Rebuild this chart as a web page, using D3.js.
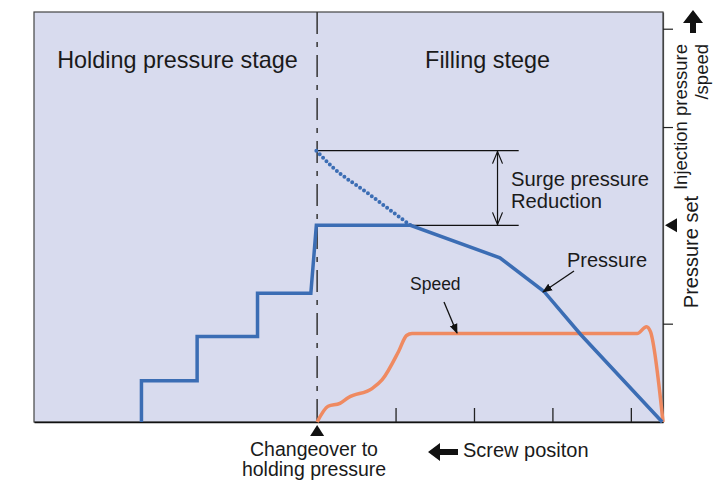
<!DOCTYPE html>
<html>
<head>
<meta charset="utf-8">
<script src="https://cdn.jsdelivr.net/npm/d3@7"></script>
<style>
  body { margin: 0; background: #fff; }
  text { font-family: "Liberation Sans", Arial, sans-serif; fill: #1a1a1a; }
</style>
</head>
<body>
<svg id="chart" width="722" height="481"></svg>
<script>
// screw position: 0 = changeover, one unit per tick
let xTicks = [1, 2, 3, 4];
let yTicks = [1, 3, 4];
let pressureSet = 2.0;

let pressureX = [-2.24, -2.24, -1.53, -1.53, -0.76, -0.76, -0.08, -0.01, 1.19, 2.33, 2.89, 3.36, 4.40];
let pressureY = [0, 0.42, 0.42, 0.87, 0.87, 1.31, 1.31, 2.0, 2.0, 1.67, 1.33, 0.89, 0];

let surgeX = [-0.01, 0.2, 0.64, 0.89, 1.19];
let surgeY = [2.76, 2.59, 2.33, 2.18, 2.0];

let speedX = [0, 0.14, 0.29, 0.4, 0.7, 0.83, 1.04, 1.14, 1.21, 4.08, 4.2, 4.25, 4.41];
let speedY = [0, 0.16, 0.19, 0.25, 0.34, 0.43, 0.72, 0.88, 0.9, 0.9, 0.97, 0.92, 0];

let surgeTop = 2.76, surgeBottom = 2.0;

let plotL = 34, plotR = 663, plotT = 12, plotB = 422;

let x = d3.scaleLinear().domain([-3.61, 4.41]).range([plotL, plotR]);
let y = d3.scaleLinear().domain([0, 4.17]).range([plotB, plotT]);

let svg = d3.select('#chart');
let defs = svg.append('defs');
defs.append('marker')
    .attr('id', 'head')
    .attr('viewBox', '0 0 10 10')
    .attr('refX', 9).attr('refY', 5)
    .attr('markerWidth', 10).attr('markerHeight', 10)
    .attr('markerUnits', 'userSpaceOnUse')
    .attr('orient', 'auto')
    .append('path').attr('d', 'M0,1 L10,5 L0,9 Z').attr('fill', '#111');

// plot background
svg.append('rect')
   .attr('x', plotL).attr('y', plotT)
   .attr('width', plotR - plotL).attr('height', plotB - plotT)
   .attr('fill', '#d8dbee').attr('stroke', '#444').attr('stroke-width', 1.2);

// bottom axis (ticks inside)
let xAxis = svg.append('g')
   .attr('transform', `translate(0,${plotB})`)
   .call(d3.axisBottom(x).tickValues(xTicks).tickSizeInner(-14).tickSizeOuter(0).tickFormat(''));
xAxis.select('.domain').attr('stroke', '#111').attr('stroke-width', 1.5);
xAxis.selectAll('.tick line').attr('stroke', '#222').attr('stroke-width', 1.3);

// right axis
let yAxis = svg.append('g')
   .attr('transform', `translate(${plotR},0)`)
   .call(d3.axisRight(y).tickValues(yTicks).tickSizeInner(10).tickSizeOuter(0).tickFormat(''));
yAxis.select('.domain').attr('stroke', '#444').attr('stroke-width', 1.2);
yAxis.selectAll('.tick line').attr('stroke', '#222').attr('stroke-width', 1.2);

// changeover dash-dot line
svg.append('line')
   .attr('x1', x(0)).attr('x2', x(0)).attr('y1', plotT).attr('y2', plotB)
   .attr('stroke', '#333').attr('stroke-width', 1.5)
   .attr('stroke-dasharray', '22,8,5,8');

// surge annotation lines
[surgeTop, surgeBottom].forEach(v => {
    svg.append('line')
       .attr('x1', x(0)).attr('x2', x(2.57)).attr('y1', y(v)).attr('y2', y(v))
       .attr('stroke', '#111').attr('stroke-width', 1.2);
});
let ax = x(2.3);
svg.append('line')
   .attr('x1', ax).attr('x2', ax).attr('y1', y(surgeTop)).attr('y2', y(surgeBottom))
   .attr('stroke', '#111').attr('stroke-width', 1.2);
svg.append('path')
   .attr('d', `M${ax - 5},${y(surgeTop) + 13} L${ax},${y(surgeTop) + 1} L${ax + 5},${y(surgeTop) + 13}`
            + `M${ax - 5},${y(surgeBottom) - 13} L${ax},${y(surgeBottom) - 1} L${ax + 5},${y(surgeBottom) - 13}`)
   .attr('fill', 'none').attr('stroke', '#111').attr('stroke-width', 1.2);

// curves
let pressure = pressureX.map((d, i) => [d, pressureY[i]]);
let surge = surgeX.map((d, i) => [d, surgeY[i]]);
let speed = speedX.map((d, i) => [d, speedY[i]]);

let line = d3.line().x(d => x(d[0])).y(d => y(d[1]));

svg.append('path')
   .datum(surge)
   .attr('d', line.curve(d3.curveMonotoneX))
   .attr('fill', 'none').attr('stroke', '#3b6db4').attr('stroke-width', 4)
   .attr('stroke-linecap', 'round').attr('stroke-dasharray', '0,4.8');

svg.append('path')
   .datum(speed)
   .attr('d', line.curve(d3.curveMonotoneX))
   .attr('fill', 'none').attr('stroke', '#ef8a61').attr('stroke-width', 3.5)
   .attr('stroke-linejoin', 'round');

svg.append('path')
   .datum(pressure)
   .attr('d', line.curve(d3.curveLinear))
   .attr('fill', 'none').attr('stroke', '#3b6db4').attr('stroke-width', 3.5);

// label arrows
svg.append('line')
   .attr('x1', 444).attr('y1', 302).attr('x2', 457).attr('y2', 333)
   .attr('stroke', '#111').attr('stroke-width', 1.3).attr('marker-end', 'url(#head)');
svg.append('line')
   .attr('x1', 574).attr('y1', 271).attr('x2', 543).attr('y2', 292)
   .attr('stroke', '#111').attr('stroke-width', 1.3).attr('marker-end', 'url(#head)');

// texts
let txt = (s, tx, ty, size, anchor) => svg.append('text')
   .attr('x', tx).attr('y', ty).attr('font-size', size)
   .attr('text-anchor', anchor || 'start').text(s);

txt('Holding pressure stage', 177.5, 68, 23.4, 'middle');
txt('Filling stege', 487.5, 68, 23.4, 'middle');
txt('Surge pressure', 511, 186, 20.2);
txt('Reduction', 511, 208, 20.2);
txt('Pressure', 567, 267, 20);
txt('Speed', 410, 290, 17.5);
txt('Changeover to', 314, 456, 19.5, 'middle');
txt('holding pressure', 314, 476, 19.5, 'middle');
txt('Screw positon', 463, 457, 20);

svg.append('text').attr('transform', 'translate(687,44) rotate(-90)')
   .attr('font-size', 18.5).attr('text-anchor', 'end').text('Injection pressure');
svg.append('text').attr('transform', 'translate(708,44) rotate(-90)')
   .attr('font-size', 18.5).attr('text-anchor', 'end').text('/speed');
svg.append('text').attr('transform', 'translate(698,252) rotate(-90)')
   .attr('font-size', 20).attr('text-anchor', 'middle').text('Pressure set');

// markers: triangles and arrows
let tri = svg.append('g').attr('fill', '#111');
let py = y(pressureSet);
tri.append('path').attr('d', `M665,${py} L677,${py - 7} L677,${py + 7} Z`);
tri.append('path').attr('d', `M${x(0)},425 L${x(0) - 7},436 L${x(0) + 7},436 Z`);
// up arrow
tri.append('path').attr('d', 'M693,10 L703,23 L696,23 L696,33 L690,33 L690,23 L683,23 Z');
// left arrow
tri.append('path').attr('d', 'M428,452 L440,443 L440,449 L458,449 L458,455 L440,455 L440,461 Z');
</script>
</body>
</html>
